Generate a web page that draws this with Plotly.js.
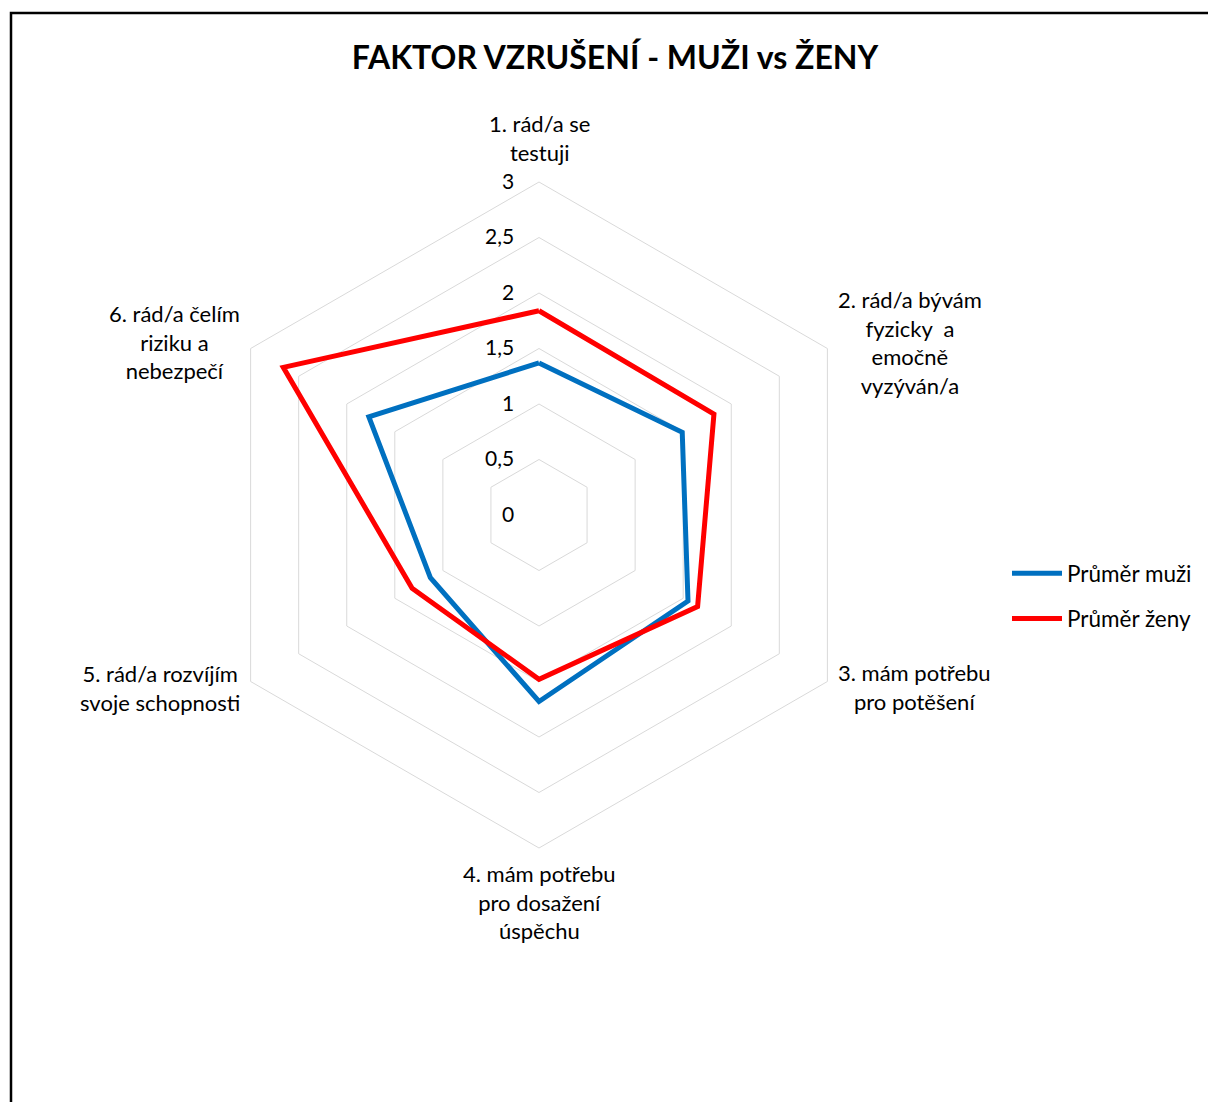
<!DOCTYPE html>
<html>
<head>
<meta charset="utf-8">
<script src="https://cdn.plot.ly/plotly-3.0.1.min.js"></script>
<style>
  html, body { margin: 0; padding: 0; background: #fff; overflow: hidden; }
  #chart { width: 1208px; height: 1102px; }
</style>
</head>
<body>
<div id="chart"></div>
<script>
// Radar chart: arousal factor, men vs women (mean scores per item)
const categories = [
  '1. rád/a se<br>testuji',
  '2. rád/a bývám<br>fyzicky  a<br>emočně<br>vyzýván/a',
  '3. mám potřebu<br>pro potěšení',
  '4. mám potřebu<br>pro dosažení<br>úspěchu',
  '5. rád/a rozvíjím<br>svoje schopnosti',
  '6. rád/a čelím<br>riziku a<br>nebezpečí'
];
const seriesNames = ['Průměr muži', 'Průměr ženy'];
const menValues   = [1.37, 1.49, 1.55, 1.68, 1.13, 1.77];
const womenValues = [1.84, 1.82, 1.65, 1.48, 1.32, 2.66];
const radialTicks = [0, 0.5, 1, 1.5, 2, 2.5, 3];

const W = 1208, H = 1102;
const cx = 539, cy = 515, R = 333;   // polar centre and outer radius, px
const LABEL_GAP_TOP = 14;            // gap above the top corner
const LABEL_GAP_BOTTOM = 10;         // gap below the bottom corner
const LABEL_GAP_H = 9;               // gap beside the side corners
const LABEL_LIFT = 12;               // side captions drift slightly outward vertically

// close each polygon by repeating the first category
const closeLoop = arr => arr.concat([arr[0]]);

const FONT = 'Lato, "Open Sans", sans-serif';

const traces = [
  {
    type: 'scatterpolar', mode: 'lines',
    name: seriesNames[0], legendgroup: 'a',
    r: closeLoop(menValues), theta: closeLoop(categories),
    line: { color: '#0070c0', width: 5 },
    hoverinfo: 'skip'
  },
  {
    type: 'scatterpolar', mode: 'lines',
    name: seriesNames[1], legendgroup: 'b',
    r: closeLoop(womenValues), theta: closeLoop(categories),
    line: { color: '#ff0000', width: 5 },
    hoverinfo: 'skip'
  }
];

// Category captions: centred multi-line text placed just outside each corner
// of the outer ring (clockwise from the top, evenly spaced).
const categoryLabels = categories.map((txt, i) => {
  const a = (i * 2 * Math.PI) / categories.length;
  const s = Math.sin(a), c = Math.cos(a);
  const vx = cx + R * s, vy = cy - R * c;
  const side = Math.abs(s) > 0.1;
  const py = side ? vy - c * LABEL_LIFT
                  : (c > 0 ? vy - LABEL_GAP_TOP : vy + LABEL_GAP_BOTTOM);
  return {
    xref: 'paper', yref: 'paper',
    x: (side ? vx + Math.sign(s) * LABEL_GAP_H : vx) / W,
    y: 1 - py / H,
    xanchor: side ? (s > 0 ? 'left' : 'right') : 'center',
    yanchor: side ? 'middle' : (c > 0 ? 'bottom' : 'top'),
    align: 'center',
    text: txt,
    showarrow: false,
    font: { family: FONT, size: 22, color: '#000' }
  };
});

const layout = {
  width: W, height: H,
  margin: { l: 0, r: 0, t: 0, b: 0 },
  paper_bgcolor: '#fff',
  separators: ', ',
  font: { family: FONT, color: '#000', size: 21 },
  title: {
    text: '<b>FAKTOR VZRUŠENÍ - MUŽI vs ŽENY</b>',
    font: { family: FONT, size: 32, color: '#000' },
    x: 615 / W, xanchor: 'center',
    y: 1 - 58 / H, yanchor: 'middle'
  },
  showlegend: true,
  legend: {
    x: 1007 / W, xanchor: 'left',
    y: 1 - 552 / H, yanchor: 'top',
    font: { family: FONT, size: 22.5, color: '#000' },
    itemwidth: 50,
    tracegroupgap: 13,
    bgcolor: 'rgba(0,0,0,0)'
  },
  annotations: categoryLabels,
  polar: {
    domain: {
      x: [(cx - R) / W, (cx + R) / W],
      y: [1 - (cy + R) / H, 1 - (cy - R) / H]
    },
    bgcolor: '#fff',
    gridshape: 'linear',
    radialaxis: {
      range: [0, 3],
      tickvals: radialTicks,
      angle: 90,
      tickangle: 90,
      side: 'counterclockwise',
      showline: false,
      ticks: 'outside',
      ticklen: 17,
      tickcolor: 'rgba(0,0,0,0)',
      gridcolor: '#d9d9d9',
      gridwidth: 1,
      tickfont: { family: FONT, size: 21, color: '#000' },
      layer: 'below traces'
    },
    angularaxis: {
      type: 'category',
      categoryarray: categories,
      rotation: 90,
      direction: 'clockwise',
      showgrid: false,
      showline: true,
      showticklabels: false,
      linecolor: '#d9d9d9',
      linewidth: 1,
      ticks: ''
    }
  },
  shapes: [
    {
      type: 'rect', xref: 'paper', yref: 'paper',
      x0: 11 / W, x1: 1.05, y0: -0.05, y1: 1 - 13 / H,
      line: { color: '#000', width: 2.5 },
      fillcolor: 'rgba(0,0,0,0)',
      layer: 'above'
    }
  ]
};

Plotly.newPlot('chart', traces, layout, { displayModeBar: false, staticPlot: true });
</script>
</body>
</html>
